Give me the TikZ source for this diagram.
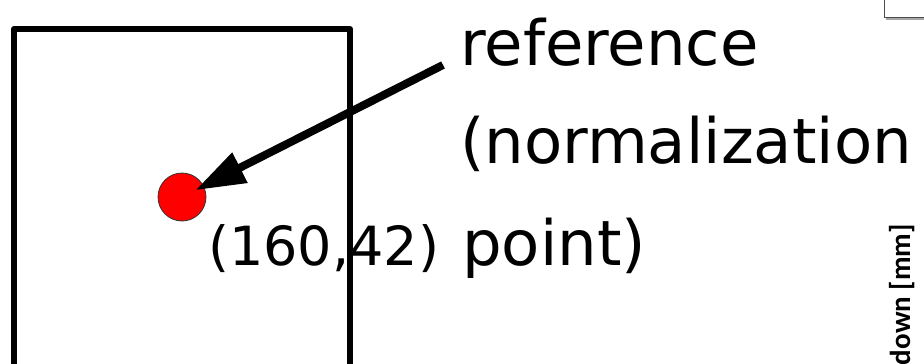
\documentclass[tikz,border=0pt]{standalone}
\usepackage{fontspec}
\setmainfont{DejaVu Sans}
\newfontfamily\axisfont{Carlito}
\usetikzlibrary{arrows.meta}
\tikzset{
  frameline/.style={line width=6pt, line join=round, line cap=butt},
  bigtext/.style={anchor=base west, inner sep=0pt, font=\fontsize{62.5}{75}\selectfont},
  coordtext/.style={anchor=base west, inner sep=0pt, font=\fontsize{54}{64}\selectfont},
  refdot/.style={circle, draw=black!80, line width=0.8pt, fill=red, minimum size=48pt, inner sep=0pt},
  bigarrow/.style={line width=8pt, -{Triangle[length=50pt,width=32pt]}},
  axislabel/.style={rotate=90, anchor=base east, inner sep=0pt, font=\axisfont\bfseries\fontsize{29}{34}\selectfont},
  legendbox/.style={draw=black!70, line width=1pt, fill=white}
}
\begin{document}
\begin{tikzpicture}[x=1pt, y=-1pt]
\useasboundingbox (0,0) rectangle (924,364);
% frame (partially visible rectangle)
\draw[frameline] (14,380) -- (14,29) -- (350,29) -- (350,380);
% reference point
\node[refdot] (dot) at (182,197) {};
% labels
\node[bigtext] (lab1) at (460,65) {reference};
\node[bigtext] (lab2) at (460,163) {(normalization};
\node[bigtext] (lab3) at (462,265) {point)};
\node[coordtext] (xy) at (208,265) {(160,42)};
% arrow
\coordinate (tail) at (443,65);
\draw[bigarrow, shorten >=15pt] (tail) -- (dot.center);
% right margin fragments
\node[axislabel] (ax) at (910,224) {down [mm]};
\draw[black!35, line width=2pt] (886,19) -- (930,19);
\draw[legendbox] (884,-5) rectangle (934,17);
\end{tikzpicture}
\end{document}
